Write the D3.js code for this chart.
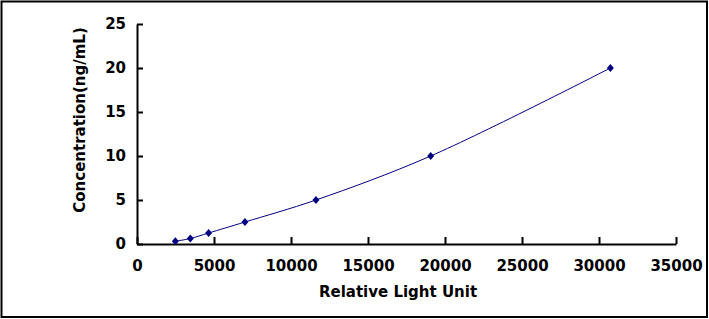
<!DOCTYPE html>
<html>
<head>
<meta charset="utf-8">
<script src="https://cdn.jsdelivr.net/npm/d3@7"></script>
<style>
  body { margin: 0; background: #fff; }
  svg text { font-family: "DejaVu Sans", sans-serif; font-weight: bold; fill: #000; }
</style>
</head>
<body>
<div id="chart"></div>
<script>
// standard curve values
const rlu = [2490, 3460, 4650, 7010, 11620, 19070, 30740];
const conc = [0.312, 0.625, 1.25, 2.5, 5, 10, 20];
const xTicks = [0, 5000, 10000, 15000, 20000, 25000, 30000, 35000];
const yTicks = [0, 5, 10, 15, 20, 25];

const W = 709, H = 319;
const plot = {left: 137, right: 676, top: 24, bottom: 244};

const svg = d3.select("#chart").append("svg")
    .attr("width", W)
    .attr("height", H);

svg.append("rect")
    .attr("x", 1.5).attr("y", 1.5)
    .attr("width", W - 3.5).attr("height", H - 3.5)
    .attr("fill", "#fff")
    .attr("stroke", "#000")
    .attr("stroke-width", 2);

const x = d3.scaleLinear().domain([0, 35000]).range([plot.left, plot.right]);
const y = d3.scaleLinear().domain([0, 25]).range([plot.bottom, plot.top]);

const xAxis = svg.append("g")
    .attr("transform", `translate(0,${plot.bottom})`)
    .call(d3.axisBottom(x).tickValues(xTicks).tickSizeInner(-7).tickSizeOuter(0).tickPadding(16).tickFormat(d3.format("d")));

const yAxis = svg.append("g")
    .attr("transform", `translate(${plot.left},0)`)
    .call(d3.axisLeft(y).tickValues(yTicks).tickSizeInner(-6).tickSizeOuter(0).tickPadding(11));

[xAxis, yAxis].forEach(g => {
    g.select(".domain").attr("stroke", "#000").attr("stroke-width", 2);
    g.selectAll(".tick line").attr("stroke", "#000").attr("stroke-width", 2);
    g.selectAll(".tick text").style("font-size", "15px").attr("font-family", null);
});

const pts = rlu.map((v, i) => [v, conc[i]]);

svg.append("path")
    .datum(pts)
    .attr("fill", "none")
    .attr("stroke", "#000080")
    .attr("stroke-width", 1)
    .attr("d", d3.line().x(d => x(d[0])).y(d => y(d[1])).curve(d3.curveCatmullRom));

svg.selectAll(".pt")
    .data(pts)
    .join("path")
    .attr("class", "pt")
    .attr("transform", d => `translate(${x(d[0])},${y(d[1])})`)
    .attr("d", "M0,-4L3.5,0L0,4L-3.5,0Z")
    .attr("fill", "#000080");

svg.append("text")
    .attr("x", 398)
    .attr("y", 297)
    .attr("text-anchor", "middle")
    .style("font-size", "15px")
    .text("Relative Light Unit");

svg.append("text")
    .attr("transform", "translate(85,120) rotate(-90)")
    .attr("text-anchor", "middle")
    .style("font-size", "15px")
    .text("Concentration(ng/mL)");
</script>
</body>
</html>
